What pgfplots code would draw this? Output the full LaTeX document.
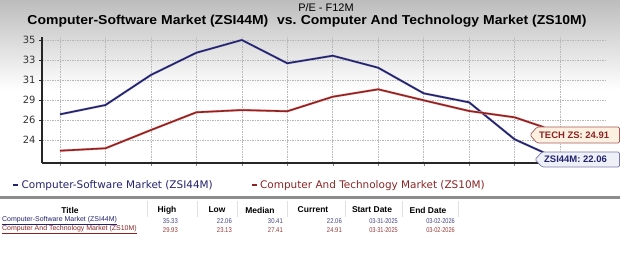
\documentclass[border=0pt]{standalone}
\usepackage{fontspec}
\setmainfont{Liberation Sans}
\newfontfamily\vfont{DejaVu Sans}
\usepackage{pgfplots}
\pgfplotsset{compat=1.18}
\definecolor{navy}{HTML}{22226E}
\definecolor{dred}{HTML}{8C2424}
\definecolor{peach}{HTML}{FCF0E0}
\definecolor{lav}{HTML}{EEF0F8}
\definecolor{tick}{HTML}{333333}
\begin{document}
\begin{tikzpicture}
\path[use as bounding box] (0bp,0bp) rectangle (620bp,258bp);
\shade[top color=black!26, bottom color=white] (0bp,258bp) rectangle (620bp,168bp);
% titles
\node[font=\fontsize{11}{12}\selectfont] at (326bp,250bp) {P/E - F12M};
\node[font=\bfseries\fontsize{13}{15}\selectfont] at (307bp,237bp) {\scalebox{1.08}[1]{Computer-Software Market (ZSI44M)\hspace{8bp}vs.\hspace{4bp}Computer And Technology Market (ZS10M)}};
\begin{axis}[
  at={(42bp,95bp)}, anchor=south west,
  scale only axis, width=563bp, height=125.8bp,
  xmin=-0.396, xmax=11.99, ymin=21.78, ymax=35.3,
  axis x line*=bottom, axis y line*=left,
  axis line style={line width=1.6bp, color=black!85},
  xtick={0.5,1.5,...,10.5},
  xticklabels={4/25,5/25,6/25,7/25,8/25,9/25,10/25,11/25,12/25,1/26,2/26},
  minor xtick={0,...,11},
  xmajorticks=false, xminorticks=false,
  xminorgrids=true, ymajorgrids=true,
  ytick={24.25,26.4,28.55,30.7,32.85,35},
  yticklabels={24,26,29,31,33,35},
  grid style={dash pattern=on 1.5bp off 1bp, black!28, line width=0.5bp},
  minor grid style={dash pattern=on 1.5bp off 1bp, black!28, line width=0.5bp},
  tick align=outside, major tick length=3bp,
  ytick style={black!85, line width=0.8bp},
  xticklabel style={font=\vfont\fontsize{10}{12}\selectfont, text=tick, yshift=-1bp},
  yticklabel style={font=\vfont\fontsize{10}{12}\selectfont, text=tick},
  clip=false,
  legend columns=2,
  legend cell align=left,
  legend style={at={(-0.0533,-0.175)}, anchor=west, draw=none, fill=none, inner sep=0pt,
    font=\vfont\fontsize{10.5}{12}\selectfont,
    /tikz/every even column/.append style={column sep=36bp}},
  legend image code/.code={\draw[#1, line width=2.2bp] (0bp,0bp) -- (5bp,0bp);},
]
\addplot[navy, line width=1.6bp, preaction={draw, navy!35, line width=2.4bp}] coordinates {
(0,27.01) (1,28.01) (2,31.24) (3,33.63) (4,35.0) (5,32.5) (6,33.31) (7,32.02) (8,29.27) (9,28.30) (10,24.33) (10.65,22.89)};
\addplot[dred, line width=1.6bp, preaction={draw, red!35, line width=2.4bp}] coordinates {
(0,23.1) (1,23.36) (2,25.32) (3,27.23) (4,27.47) (5,27.34) (6,28.9) (7,29.7) (8,28.52) (9,27.37) (10,26.69) (10.65,25.62)};
\legend{\textcolor{navy}{Computer-Software Market (ZSI44M)},\textcolor{dred}{Computer And Technology Market (ZS10M)}}
\end{axis}
% callouts
\draw[draw=dred!75, fill=peach, line width=0.7bp, rounded corners=1.5bp] (530bp,123bp) -- (537bp,131bp) -- (619.5bp,131bp) -- (619.5bp,115bp) -- (537bp,115bp) -- cycle;
\node[anchor=west, text=dred, font=\bfseries\fontsize{9.5}{10}\selectfont, inner sep=0pt] at (539bp,123bp) {TECH ZS: 24.91};
\draw[draw=navy!60, fill=lav, line width=0.7bp, rounded corners=1.5bp] (535bp,98.5bp) -- (542bp,106bp) -- (619.5bp,106bp) -- (619.5bp,91bp) -- (542bp,91bp) -- cycle;
\node[anchor=west, text=navy, font=\bfseries\fontsize{9.5}{10}\selectfont, inner sep=0pt] at (544bp,98.5bp) {ZSI44M: 22.06};
% table
\fill[black!45] (0bp,59bp) rectangle (620bp,62bp);
\foreach \x in {147,197,237,287,345,402,458} {\draw[black!12, line width=0.5bp] (\x bp,57bp) -- (\x bp,41bp);}
\begin{scope}[every node/.style={font=\bfseries\fontsize{8.5}{10}\selectfont, inner sep=0pt}]
\node at (70bp,48bp) {Title};
\node at (167bp,48bp) {High};
\node at (217bp,48bp) {Low};
\node at (260bp,48bp) {Median};
\node at (313bp,48bp) {Current};
\node at (372bp,48bp) {Start Date};
\node at (428bp,48bp) {End Date};
\end{scope}
\begin{scope}[every node/.style={font=\fontsize{7}{8}\selectfont, inner sep=0pt}]
\node[anchor=west, text=navy] at (2bp,37bp) {\underline{Computer-Software Market (ZSI44M)}};
\node[anchor=west, text=dred] at (2bp,28bp) {\underline{Computer And Technology Market (ZS10M)}};
\end{scope}
\begin{scope}[every node/.style={font=\fontsize{7}{8}\selectfont, inner sep=0pt, anchor=east}]
\node[text=navy!85] at (178bp,37bp) {\scalebox{0.85}[1]{35.33}};
\node[text=navy!85] at (232bp,37bp) {\scalebox{0.85}[1]{22.06}};
\node[text=navy!85] at (283bp,37bp) {\scalebox{0.85}[1]{30.41}};
\node[text=navy!85] at (342bp,37bp) {\scalebox{0.85}[1]{22.06}};
\node[text=navy!85] at (398bp,37bp) {\scalebox{0.8}[1]{03-31-2025}};
\node[text=navy!85] at (455bp,37bp) {\scalebox{0.8}[1]{03-02-2026}};
\node[text=dred!90] at (178bp,28bp) {\scalebox{0.85}[1]{29.93}};
\node[text=dred!90] at (232bp,28bp) {\scalebox{0.85}[1]{23.13}};
\node[text=dred!90] at (283bp,28bp) {\scalebox{0.85}[1]{27.41}};
\node[text=dred!90] at (342bp,28bp) {\scalebox{0.85}[1]{24.91}};
\node[text=dred!90] at (398bp,28bp) {\scalebox{0.8}[1]{03-31-2025}};
\node[text=dred!90] at (455bp,28bp) {\scalebox{0.8}[1]{03-02-2026}};
\end{scope}
\end{tikzpicture}
\end{document}
